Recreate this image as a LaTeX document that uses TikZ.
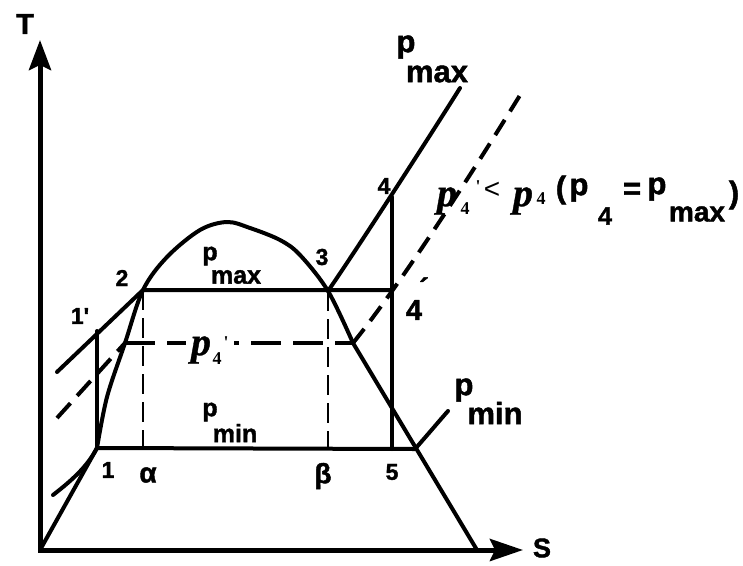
\documentclass[tikz,border=0pt]{standalone}
\usepackage{fontspec}
\setmainfont{Liberation Sans}[BoldFont={Liberation Sans Bold}, BoldFeatures={FakeBold=1.5}]
\newfontfamily\itserif{Liberation Serif}[BoldItalicFont={Liberation Serif Bold Italic}, BoldFont={Liberation Serif Bold}, BoldItalicFeatures={FakeBold=0.8}]
\usetikzlibrary{arrows.meta}
\tikzset{
  curve/.style={line width=4pt, line join=round, line cap=round},
  axis/.style={line width=5pt, line join=miter},
  thindash/.style={line width=1.8pt, dash pattern=on 20pt off 8pt},
  thickdash/.style={line width=4pt, dash pattern=on 20pt off 10pt},
  lab/.style={inner sep=0pt, font=\bfseries\fontsize{23}{23}\selectfont},
  greek/.style={inner sep=0pt, font=\bfseries\fontsize{28}{28}\selectfont},
  big/.style={inner sep=0pt, font=\bfseries\fontsize{29}{29}\selectfont},
  sub/.style={inner sep=0pt, font=\bfseries\fontsize{25}{25}\selectfont},
  subbig/.style={inner sep=0pt, font=\bfseries\fontsize{31}{31}\selectfont},
  itp/.style={inner sep=0pt, font=\itserif\bfseries\itshape\fontsize{40}{40}\selectfont},
  itsub/.style={inner sep=0pt, font=\itserif\bfseries\fontsize{18}{18}\selectfont}
}
\begin{document}
\begin{tikzpicture}[x=1pt,y=-1pt]
\useasboundingbox (0,0) rectangle (743,565);
% key points
\coordinate (O) at (40,550);
\coordinate (Ttip) at (40,40);
\coordinate (Stip) at (523,550);
\coordinate (P1) at (97,448);
\coordinate (P1p) at (97,331);
\coordinate (P2) at (143,290);
\coordinate (P3) at (328,291);
\coordinate (P4) at (392,197);
\coordinate (P4p) at (392,290);
\coordinate (P5) at (392,449);
\coordinate (Pa) at (143,449);
\coordinate (Pb) at (328,449);
\coordinate (Q) at (125,343);
\coordinate (R) at (353,343);
\coordinate (M) at (415,449);
\coordinate (F) at (477,550);
% axes
\draw[axis, {Stealth[length=30pt,width=22pt,inset=5pt]}-{Stealth[length=33pt,width=22pt,inset=5pt]}] (Ttip) -- (O) -- (Stip);
% saturation curve
\draw[curve] (O) -- (P1);
\draw[curve] plot[smooth, tension=0.55] coordinates {(P1) (107,397) (Q) (P2) (167,257) (200,230) (227,222) (250,228) (280,240) (300,255) (P3) (R)};
\draw[curve] (R) -- (F);
% isobars
\draw[curve] (57,372) -- (P2) -- (P4p);
\draw[curve] (P3) .. controls (355,252) and (430,136) .. (460,88);
\draw[curve] (53,495) .. controls (75,478) and (88,465) .. (P1) -- (M);
\draw[curve] (M) .. controls (430,432) and (440,420) .. (448,411);
\draw[curve] (P1) -- (P1p);
\draw[curve] (P4) -- (P5);
% p4' isobar (dashed)
\draw[thickdash] (57,418) -- (Q);
\draw[thickdash, dash pattern=on 30pt off 12pt] (Q) -- (R);
\draw[thickdash, dash pattern=on 18pt off 10pt] (R) .. controls (403,281) and (472,173) .. (522,92);
% thin dashed verticals
\draw[thindash] (P2) -- (Pa);
\draw[thindash] (P3) -- (Pb);
% labels
\node[big] (T) at (25,24) {T};
\node[inner sep=0pt, font=\bfseries\fontsize{27}{27}\selectfont] (S) at (542,548) {S};
\node[lab] (l2) at (122,278) {2};
\node[lab] (l1p) at (80,316) {1\textquotesingle};
\node[lab] (l1) at (108,470) {1};
\node[greek] (la) at (148,475) {α};
\node[greek] (lb) at (323,476) {β};
\node[lab] (l5) at (392,472) {5};
\node[lab] (l3) at (322,257) {3};
\node[lab] (l4) at (384,186) {4};
\node[big] (l4p) at (414,310) {4};
\node[big] (l4pp) at (424,288) {\textasciiacute};
% p max (top)
\node[subbig] (pt) at (406,47) {p};
\node[subbig] (pmt) at (437,74) {max};
% p max (dome)
\node[sub] (pd) at (210,256) {p};
\node[sub] (pmd) at (236,277) {max};
% p min (inside)
\node[sub] (pi) at (210,412) {p};
\node[sub] (pmi) at (235,433) {min};
% p min (right)
\node[subbig] (pr) at (464,390) {p};
\node[subbig] (pmr) at (495,413) {min};
% p4' on the dashed isobar
\node[fill=white, inner sep=0pt, minimum width=48pt, minimum height=20pt] (gap) at (210,343) {};
\node[itp] (pq) at (201,350) {p};
\node[itsub] (pq4) at (217,359) {4};
\node[itsub] (pqp) at (226,343) {\textquotesingle};
% relation
\node[itp] (r1) at (447,201) {p};
\node[itsub] (r1s) at (465,209) {4};
\node[itsub] (r1p) at (478,187) {\textquotesingle};
\node[inner sep=0pt, font=\fontsize{28}{28}\selectfont] (lt) at (492,190) {<};
\node[itp] (r2) at (523,201) {p};
\node[itsub] (r2s) at (541,199) {4};
\node[subbig] (po) at (561,190) {(};
\node[subbig] (rp) at (579,190) {p};
\node[sub] (rp4) at (605,216) {4};
\node[subbig] (eq) at (632,191) {=};
\node[subbig] (rpm) at (657,189) {p};
\node[inner sep=0pt, font=\bfseries\fontsize{28}{28}\selectfont] (rmax) at (697,214) {max};
\node[subbig] (pc) at (734,195) {)};
\end{tikzpicture}
\end{document}
